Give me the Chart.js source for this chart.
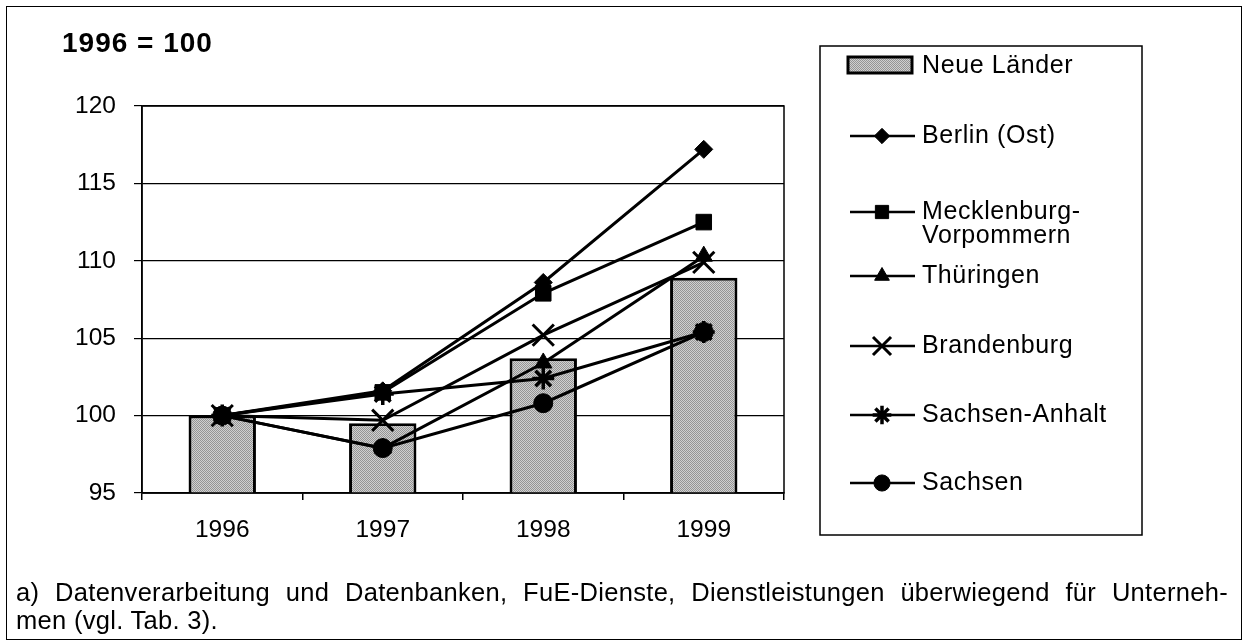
<!DOCTYPE html>
<html>
<head>
<meta charset="utf-8">
<script src="https://cdn.jsdelivr.net/npm/chart.js@4.4.1/dist/chart.umd.min.js"></script>
<style>
body { margin: 0; background: #fff; }
#wrap { position: relative; width: 1245px; height: 643px; overflow: hidden; }
#frame { position: absolute; left: 6px; top: 6px; width: 1236px; height: 634px; border: 1.5px solid #000; box-sizing: border-box; }
#chart { position: absolute; left: 0; top: 0; }
#note { position: absolute; left: 16px; top: 578px; width: 1212px; font: 25.5px 'Liberation Sans', Arial, sans-serif; letter-spacing: 0.3px; line-height: 28px; color: #000; }
#note .first { display: block; text-align: justify; text-align-last: justify; }
</style>
</head>
<body>
<div id="wrap">
  <div id="frame"></div>
  <canvas id="chart" width="1245" height="643"></canvas>
  <div id="note">
    <span class="first">a) Datenverarbeitung und Datenbanken, FuE-Dienste, Dienstleistungen überwiegend für Unterneh-</span>
    <span>men (vgl. Tab. 3).</span>
  </div>
</div>
<script>
Chart.defaults.font.family = "'Liberation Sans', Arial, sans-serif";
Chart.defaults.color = '#000';

// values, 1996 = 100
const years = ['1996', '1997', '1998', '1999'];
const neueLaender = [100, 99.5, 103.7, 108.9];
const berlinOst = [100, 101.6, 108.6, 117.2];
const mecklenburg = [100, 101.5, 107.9, 112.5];
const thueringen = [100, 97.9, 103.4, 110.3];
const brandenburg = [100, 99.7, 105.2, 109.9];
const sachsenAnhalt = [100, 101.4, 102.4, 105.4];
const sachsen = [100, 97.9, 100.8, 105.4];
const yTicks = [95, 100, 105, 110, 115, 120];

// grey stipple like the scanned bars
function stipple() {
    const c = document.createElement('canvas');
    c.width = 2; c.height = 2;
    const g = c.getContext('2d');
    g.fillStyle = '#d0d0d0';
    g.fillRect(0, 0, 2, 2);
    g.fillStyle = '#959595';
    g.fillRect(0, 0, 1, 1);
    g.fillRect(1, 1, 1, 1);
    return g.createPattern(c, 'repeat');
}
const barFill = stipple();

const markers = {
    'Berlin (Ost)': { pointStyle: 'rectRot', radius: 9, borderWidth: 1 },
    'Mecklenburg-Vorpommern': { pointStyle: 'rect', radius: 11, borderWidth: 1 },
    'Thüringen': { pointStyle: 'triangle', radius: 10, borderWidth: 1 },
    'Brandenburg': { pointStyle: 'crossRot', radius: 15, borderWidth: 3 },
    'Sachsen-Anhalt': { pointStyle: 'star', radius: 11, borderWidth: 3.5 },
    'Sachsen': { pointStyle: 'circle', radius: 9.5, borderWidth: 1 }
};

function lineSet(label, data) {
    const m = markers[label];
    return {
        type: 'line',
        label: label,
        data: data,
        order: 1,
        borderColor: '#000',
        borderWidth: 3,
        tension: 0,
        pointStyle: m.pointStyle,
        pointRadius: m.radius,
        pointBorderWidth: m.borderWidth,
        pointBackgroundColor: '#000',
        pointBorderColor: '#000'
    };
}

// plot frame, title and the boxed legend
const extras = {
    id: 'extras',
    afterDraw(chart) {
        const ctx = chart.ctx;
        const a = chart.chartArea;
        ctx.save();
        ctx.strokeStyle = '#000';
        ctx.lineWidth = 1.5;
        ctx.strokeRect(a.left, a.top, a.right - a.left, a.bottom - a.top);

        ctx.fillStyle = '#000';
        ctx.font = "bold 28px 'Liberation Sans', Arial, sans-serif";
        ctx.letterSpacing = '1px';
        ctx.textBaseline = 'middle';
        ctx.fillText('1996 = 100', 62, 44);

        // legend box
        ctx.lineWidth = 1.5;
        ctx.strokeRect(820, 46, 322, 489);
        ctx.font = "25px 'Liberation Sans', Arial, sans-serif";
        ctx.letterSpacing = '0.6px';

        ctx.fillStyle = barFill;
        ctx.fillRect(848, 57, 64, 16);
        ctx.lineWidth = 3;
        ctx.strokeRect(848, 57, 64, 16);
        ctx.fillStyle = '#000';
        ctx.fillText('Neue Länder', 922, 66);

        const rows = [
            ['Berlin (Ost)', 136, ['Berlin (Ost)']],
            ['Mecklenburg-Vorpommern', 212, ['Mecklenburg-', 'Vorpommern']],
            ['Thüringen', 276, ['Thüringen']],
            ['Brandenburg', 346, ['Brandenburg']],
            ['Sachsen-Anhalt', 415, ['Sachsen-Anhalt']],
            ['Sachsen', 483, ['Sachsen']]
        ];
        rows.forEach(([key, y, lines]) => {
            ctx.strokeStyle = '#000';
            ctx.fillStyle = '#000';
            ctx.lineWidth = 2.5;
            ctx.beginPath();
            ctx.moveTo(850, y);
            ctx.lineTo(915, y);
            ctx.stroke();
            const m = markers[key];
            ctx.lineWidth = m.borderWidth;
            Chart.helpers.drawPoint(ctx, {
                pointStyle: m.pointStyle,
                radius: m.radius * 0.85,
                rotation: 0,
                borderWidth: m.borderWidth
            }, 882, y);
            ctx.fillStyle = '#000';
            lines.forEach((t, i) => ctx.fillText(t, 922, y + i * 24));
        });
        ctx.restore();
    }
};

new Chart(document.getElementById('chart'), {
    type: 'bar',
    data: {
        labels: years,
        datasets: [
            {
                label: 'Neue Länder',
                data: neueLaender,
                order: 2,
                backgroundColor: barFill,
                borderColor: '#000',
                borderWidth: 3,
                borderSkipped: false,
                barPercentage: 0.42,
                categoryPercentage: 1
            },
            lineSet('Berlin (Ost)', berlinOst),
            lineSet('Mecklenburg-Vorpommern', mecklenburg),
            lineSet('Thüringen', thueringen),
            lineSet('Brandenburg', brandenburg),
            lineSet('Sachsen-Anhalt', sachsenAnhalt),
            lineSet('Sachsen', sachsen)
        ]
    },
    options: {
        responsive: false,
        animation: false,
        layout: {
            padding: { left: 0, top: 106, right: 461, bottom: 95 }
        },
        scales: {
            x: {
                offset: true,
                grid: {
                    offset: true,
                    drawOnChartArea: false,
                    drawTicks: true,
                    tickLength: 7,
                    color: '#000',
                    lineWidth: 1.5
                },
                border: { color: '#000', width: 1.5 },
                ticks: {
                    color: '#000',
                    font: { size: 24.5 },
                    padding: 16
                },
                afterFit(s) { s.height = 55; }
            },
            y: {
                min: 95,
                max: 120,
                afterBuildTicks(s) { s.ticks = yTicks.map(v => ({ value: v })); },
                grid: {
                    color: '#000',
                    lineWidth: 1.2,
                    tickLength: 8,
                    drawTicks: true
                },
                border: { color: '#000', width: 1.5 },
                ticks: {
                    color: '#000',
                    font: { size: 24.5 },
                    padding: 18
                },
                afterFit(s) { s.width = 142; }
            }
        },
        plugins: {
            legend: { display: false },
            tooltip: { enabled: false }
        }
    },
    plugins: [extras]
});
</script>
</body>
</html>
